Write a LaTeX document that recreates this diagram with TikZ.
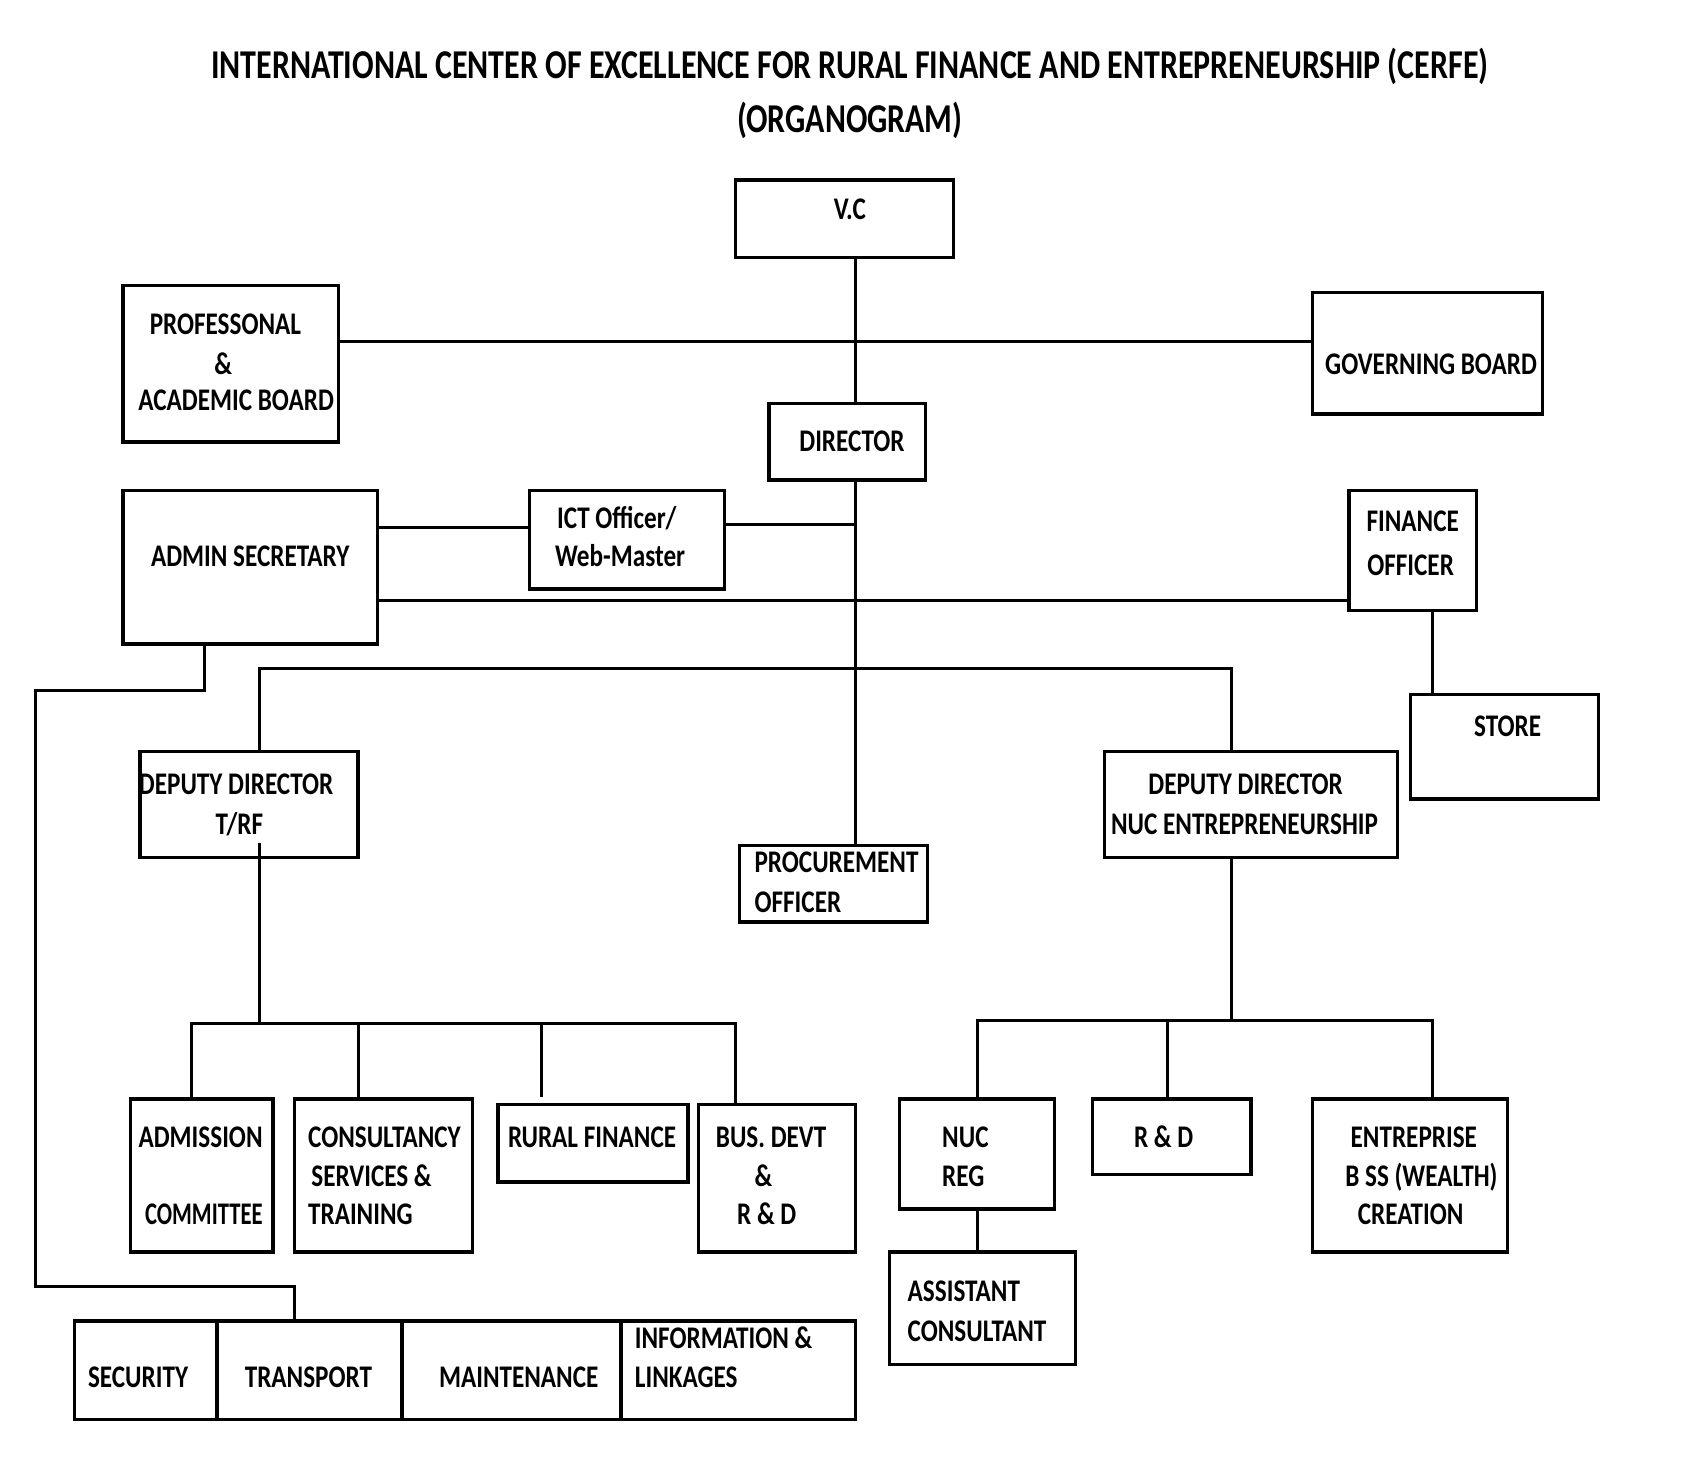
\documentclass[tikz,border=0pt]{standalone}
\usepackage{fontspec}
\setmainfont{Carlito}
\usepackage{graphicx}
\usetikzlibrary{calc}
\newcommand{\lb}[1]{\scalebox{0.8}[1]{#1}}
\tikzset{
 box/.style={draw, line width=0.9pt, inner sep=0, rectangle},
 conn/.style={line width=0.8pt},
 lbl/.style={inner sep=0, anchor=base, font=\fontsize{8.3}{10}\selectfont\bfseries},
 lbll/.style={lbl, anchor=base west},
 ttl/.style={inner sep=0, anchor=base, font=\fontsize{10.8}{13}\selectfont\bfseries},
}
\begin{document}
\begin{tikzpicture}[x=0.01cm,y=-0.01cm]
\useasboundingbox (0,0) rectangle (1568,1370);
% title
\node[ttl] (title1) at (788,73) {\resizebox{11.84cm}{\height}{INTERNATIONAL CENTER OF EXCELLENCE FOR RURAL FINANCE AND ENTREPRENEURSHIP (CERFE)}};
\node[ttl] (title2) at (788,123) {\resizebox{2.09cm}{\height}{(ORGANOGRAM)}};
% boxes
\node[box, minimum width=2.02cm, minimum height=0.72cm] (vc) at (783,203) {};
\node[box, minimum width=2.00cm, minimum height=1.45cm] (pab) at (214,337.5) {};
\node[box, minimum width=2.13cm, minimum height=1.13cm] (gov) at (1323.5,327.5) {};
\node[box, minimum width=1.45cm, minimum height=0.71cm] (dir) at (785.5,409.5) {};
\node[box, minimum width=2.36cm, minimum height=1.42cm] (adm) at (232,526) {};
\node[box, minimum width=1.81cm, minimum height=0.91cm] (ict) at (581.5,500.5) {};
\node[box, minimum width=1.18cm, minimum height=1.11cm] (fin) at (1310,510.5) {};
\node[box, minimum width=1.74cm, minimum height=0.97cm] (store) at (1395,692.5) {};
\node[box, minimum width=2.02cm, minimum height=0.98cm] (ddt) at (231,746) {};
\node[box, minimum width=1.74cm, minimum height=0.71cm] (proc) at (773,819.5) {};
\node[box, minimum width=2.72cm, minimum height=0.98cm] (ddn) at (1160,746) {};
\node[box, minimum width=1.32cm, minimum height=1.42cm] (admc) at (187,1090) {};
\node[box, minimum width=1.65cm, minimum height=1.42cm] (cons) at (355.5,1090) {};
\node[box, minimum width=1.76cm, minimum height=0.72cm] (rural) at (550,1060) {};
\node[box, minimum width=1.45cm, minimum height=1.37cm] (bus) at (720.5,1092.5) {};
\node[box, minimum width=1.44cm, minimum height=1.02cm] (nuc) at (906,1070) {};
\node[box, minimum width=1.47cm, minimum height=0.70cm] (rd) at (1086.5,1054) {};
\node[box, minimum width=1.81cm, minimum height=1.42cm] (ent) at (1307.5,1090) {};
\node[box, minimum width=1.72cm, minimum height=1.04cm] (asst) at (911,1213) {};
\node[box, minimum width=1.32cm, minimum height=0.91cm] (sec) at (135,1270.5) {};
\node[box, minimum width=1.72cm, minimum height=0.91cm] (trans) at (287,1270.5) {};
\node[box, minimum width=2.03cm, minimum height=0.91cm] (maint) at (474.5,1270.5) {};
\node[box, minimum width=2.17cm, minimum height=0.91cm] (info) at (684.5,1270.5) {};
% texts
\node[lbl] (vct) at (788,204) {\lb{V.C}};
\node[lbl] (pabt1) at (209,310) {\lb{PROFESSONAL}};
\node[lbl] (pabt2) at (207,347) {\lb{\&}};
\node[lbl] (pabt3) at (219,381) {\lb{ACADEMIC BOARD}};
\node[lbl] (govt) at (1327,347) {\lb{GOVERNING BOARD}};
\node[lbl] (dirt) at (790,419) {\lb{DIRECTOR}};
\node[lbl] (admt) at (232,525) {\lb{ADMIN SECRETARY}};
\node[lbl] (ictt1) at (572,490) {\lb{ICT Officer/}};
\node[lbl] (ictt2) at (575,525) {\lb{Web-Master}};
\node[lbl] (fint1) at (1310,493) {\lb{FINANCE}};
\node[lbl] (fint2) at (1308,534) {\lb{OFFICER}};
\node[lbl] (storet) at (1398,683) {\lb{STORE}};
\node[lbl] (ddtt1) at (219,737) {\lb{DEPUTY DIRECTOR}};
\node[lbl] (ddtt2) at (222,774) {\lb{T/RF}};
\node[lbll] (proct1) at (699,809) {\lb{PROCUREMENT}};
\node[lbll] (proct2) at (699,846) {\lb{OFFICER}};
\node[lbl] (ddnt1) at (1155,737) {\lb{DEPUTY DIRECTOR}};
\node[lbl] (ddnt2) at (1154,774) {\lb{NUC ENTREPRENEURSHIP}};
\node[lbl] (admct1) at (186,1064) {\lb{ADMISSION}};
\node[lbl] (admct2) at (189,1135) {\scalebox{0.72}[1]{COMMITTEE}};
\node[lbll] (const1) at (285,1064) {\lb{CONSULTANCY}};
\node[lbll] (const2) at (288,1100) {\lb{SERVICES \&}};
\node[lbll] (const3) at (285,1135) {\lb{TRAINING}};
\node[lbl] (ruralt) at (549,1064) {\lb{RURAL FINANCE}};
\node[lbl] (bust1) at (715,1064) {\lb{BUS. DEVT}};
\node[lbl] (bust2) at (708,1100) {\lb{\&}};
\node[lbl] (bust3) at (711,1135) {\lb{R \& D}};
\node[lbll] (nuct1) at (873,1064) {\lb{NUC}};
\node[lbll] (nuct2) at (873,1100) {\lb{REG}};
\node[lbl] (rdt) at (1079,1064) {\lb{R \& D}};
\node[lbl] (entt1) at (1311,1064) {\lb{ENTREPRISE}};
\node[lbl] (entt2) at (1318,1100) {\lb{B SS (WEALTH)}};
\node[lbl] (entt3) at (1308,1135) {\lb{CREATION}};
\node[lbll] (asstt1) at (841,1207) {\lb{ASSISTANT}};
\node[lbll] (asstt2) at (841,1244) {\lb{CONSULTANT}};
\node[lbl] (sect) at (128,1287) {\lb{SECURITY}};
\node[lbl] (transt) at (286,1287) {\lb{TRANSPORT}};
\node[lbl] (maintt) at (481,1287) {\lb{MAINTENANCE}};
\node[lbll] (infot1) at (588,1250) {\lb{INFORMATION \&}};
\node[lbll] (infot2) at (588,1287) {\lb{LINKAGES}};
% connectors
\coordinate (sp) at (793.5,0);
\draw[conn] (vc.south -| sp) -- (dir.north -| sp);
\coordinate (hb) at (0,317);
\draw[conn] (pab.east |- hb) -- (gov.west |- hb);
\draw[conn] (dir.south -| sp) -- (proc.north -| sp);
\coordinate (ictl) at (0,486);
\draw[conn] (ict.east |- ictl) -- (sp |- ictl);
\coordinate (al) at (0,489);
\draw[conn] (adm.east |- al) -- (ict.west |- al);
\coordinate (fl) at (0,557);
\draw[conn] (adm.east |- fl) -- (fin.west |- fl);
\coordinate (fx) at (1328,0);
\draw[conn] (fin.south -| fx) -- (store.north -| fx);
\coordinate (dtx) at (241,620);
\coordinate (dnx) at (1142,620);
\draw[conn] (ddt.north -| dtx) -- (dtx) -- (dnx) -- (ddn.north -| dnx);
% left subtree
\coordinate (lbc) at (241,949);
\coordinate (lb1) at (178,949);
\coordinate (lb2) at (332,949);
\coordinate (lb3) at (502,949);
\coordinate (lb4) at (682,949);
\draw[conn] ($(ddt.south -| lbc)+(0,-15)$) -- (lbc);
\draw[conn] (admc.north -| lb1) -- (lb1) -- (lb4) -- (bus.north -| lb4);
\draw[conn] (lb2) -- (cons.north -| lb2);
\draw[conn] (lb3) -- ($(rural.north -| lb3)+(0,-5)$);
% right subtree
\coordinate (rbc) at (1142,946);
\coordinate (rb1) at (906,946);
\coordinate (rb2) at (1083,946);
\coordinate (rb3) at (1328,946);
\draw[conn] (ddn.south -| rbc) -- (rbc);
\draw[conn] (nuc.north -| rb1) -- (rb1) -- (rb3) -- (ent.north -| rb3);
\draw[conn] (rb2) -- (rd.north -| rb2);
\draw[conn] (nuc.south) -- (asst.north -| nuc.south);
% admin to service row
\coordinate (a1) at (190,640);
\coordinate (a2) at (33,640);
\coordinate (a3) at (33,1193);
\coordinate (a4) at (273,1193);
\draw[conn] (adm.south -| a1) -- (a1) -- (a2) -- (a3) -- (a4) -- (trans.north -| a4);
\end{tikzpicture}
\end{document}
